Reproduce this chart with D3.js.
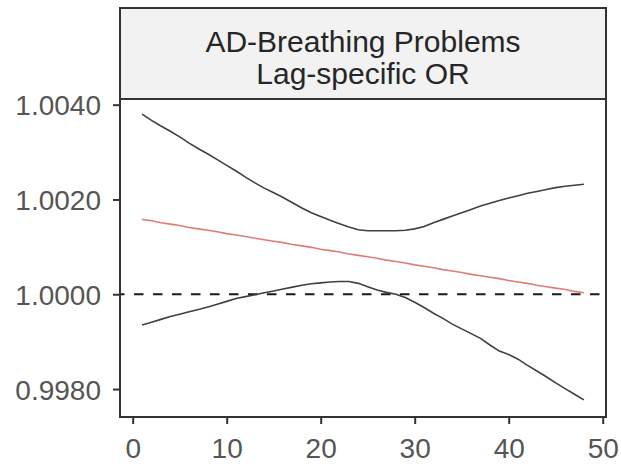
<!DOCTYPE html>
<html>
<head>
<meta charset="utf-8">
<script src="https://cdn.jsdelivr.net/npm/d3@7"></script>
<style>
  html, body { margin: 0; padding: 0; background: #ffffff; }
  svg text { font-family: "Liberation Sans", Arial, sans-serif; }
</style>
</head>
<body>
<svg id="chart" width="621" height="464"></svg>
<script>
// Lag-specific odds ratio with its confidence band, lags 1..48
const lags = d3.range(1, 49);

const orEstimate = [
  1.00158, 1.00155, 1.00151, 1.00148, 1.00145, 1.00141, 1.00138, 1.00135,
  1.00132, 1.00128, 1.00125, 1.00122, 1.00118, 1.00115, 1.00112, 1.00109,
  1.00105, 1.00102, 1.00099, 1.00095, 1.00092, 1.00089, 1.00085, 1.00082,
  1.00079, 1.00076, 1.00072, 1.00069, 1.00066, 1.00062, 1.00059, 1.00056,
  1.00052, 1.00049, 1.00046, 1.00042, 1.00039, 1.00036, 1.00033, 1.00029,
  1.00026, 1.00023, 1.00019, 1.00016, 1.00013, 1.00010, 1.00006, 1.00003
];

const orUpper = [
  1.00380, 1.00367, 1.00355, 1.00344, 1.00332, 1.00319, 1.00307, 1.00296,
  1.00284, 1.00272, 1.00260, 1.00247, 1.00235, 1.00224, 1.00214, 1.00204,
  1.00193, 1.00182, 1.00172, 1.00164, 1.00156, 1.00149, 1.00142, 1.00136,
  1.00134, 1.00134, 1.00134, 1.00134, 1.00135, 1.00138, 1.00143, 1.00151,
  1.00158, 1.00165, 1.00172, 1.00179, 1.00186, 1.00192, 1.00198, 1.00203,
  1.00208, 1.00213, 1.00217, 1.00221, 1.00225, 1.00228, 1.00230, 1.00232
];

const orLower = [
  0.99935, 0.99941, 0.99947, 0.99953, 0.99958, 0.99963, 0.99968, 0.99973,
  0.99979, 0.99985, 0.99991, 0.99995, 0.99999, 1.00003, 1.00007, 1.00011,
  1.00015, 1.00019, 1.00022, 1.00024, 1.00026, 1.00027, 1.00027, 1.00023,
  1.00016, 1.00009, 1.00004, 1.00000, 0.99993, 0.99983, 0.99972, 0.99960,
  0.99949, 0.99937, 0.99927, 0.99917, 0.99907, 0.99893, 0.99880, 0.99873,
  0.99863, 0.99850, 0.99838, 0.99826, 0.99813, 0.99801, 0.99789, 0.99777
];

const xTicks = [0, 10, 20, 30, 40, 50];
const yTicks = [0.998, 1.000, 1.002, 1.004];
const stripTitle = ["AD-Breathing Problems", "Lag-specific OR"];
const refValue = 1;

// Layout
const panel = { left: 120, right: 606, top: 99, bottom: 417 };
const stripTop = 8;

const svg = d3.select("#chart");

const x = d3.scaleLinear().domain([-1.35, 50.35]).range([panel.left, panel.right]);
const y = d3.scaleLinear().domain([0.99741, 1.00412]).range([panel.bottom, panel.top]);

// Strip header
svg.append("rect")
  .attr("x", panel.left).attr("y", stripTop)
  .attr("width", panel.right - panel.left).attr("height", panel.top - stripTop)
  .attr("fill", "#f2f2f2");

svg.append("g")
  .selectAll("text")
  .data(stripTitle)
  .join("text")
  .attr("x", (panel.left + panel.right) / 2)
  .attr("y", (d, i) => 52 + i * 32)
  .attr("text-anchor", "middle")
  .attr("font-size", 30)
  .attr("fill", "#262626")
  .text(d => d);

// Plot area
svg.append("clipPath").attr("id", "plot-clip")
  .append("rect")
  .attr("x", panel.left).attr("y", panel.top)
  .attr("width", panel.right - panel.left).attr("height", panel.bottom - panel.top);

const plot = svg.append("g").attr("clip-path", "url(#plot-clip)");

// Reference line at OR = 1
plot.append("line")
  .attr("x1", panel.left).attr("x2", panel.right)
  .attr("y1", y(refValue)).attr("y2", y(refValue))
  .attr("stroke", "#1a1a1a")
  .attr("stroke-width", 2.2)
  .attr("stroke-dasharray", "9.5,9.5")
  .attr("stroke-dashoffset", -14);

const line = d3.line()
  .x((d, i) => x(lags[i]))
  .y(d => y(d));

[orUpper, orLower].forEach(series => {
  plot.append("path")
    .datum(series)
    .attr("d", line)
    .attr("fill", "none")
    .attr("stroke", "#404040")
    .attr("stroke-width", 1.6);
});

plot.append("path")
  .datum(orEstimate)
  .attr("d", line)
  .attr("fill", "none")
  .attr("stroke", "#e07c78")
  .attr("stroke-width", 1.6);

// Axes
const xAxis = d3.axisBottom(x).tickValues(xTicks).tickSize(7).tickPadding(14)
  .tickFormat(d3.format("d"));
const yAxis = d3.axisLeft(y).tickValues(yTicks).tickSize(7).tickPadding(12)
  .tickFormat(d3.format(".4f"));

const gx = svg.append("g").attr("transform", `translate(0,${panel.bottom})`).call(xAxis);
const gy = svg.append("g").attr("transform", `translate(${panel.left},0)`).call(yAxis);

[gx, gy].forEach(g => {
  g.select(".domain").remove();
  g.selectAll(".tick line").attr("stroke", "#333333").attr("stroke-width", 2);
  g.selectAll(".tick text")
    .attr("font-size", 28)
    .attr("fill", "#555555")
    .attr("font-family", "Liberation Sans, Arial, sans-serif");
});
gy.selectAll(".tick text").attr("dy", "0.36em");
gx.selectAll(".tick text").attr("dy", "0.71em");

// Panel and strip borders
svg.append("rect")
  .attr("x", panel.left).attr("y", stripTop)
  .attr("width", panel.right - panel.left).attr("height", panel.bottom - stripTop)
  .attr("fill", "none")
  .attr("stroke", "#333333")
  .attr("stroke-width", 2);

svg.append("line")
  .attr("x1", panel.left).attr("x2", panel.right)
  .attr("y1", panel.top).attr("y2", panel.top)
  .attr("stroke", "#333333")
  .attr("stroke-width", 2);
</script>
</body>
</html>
